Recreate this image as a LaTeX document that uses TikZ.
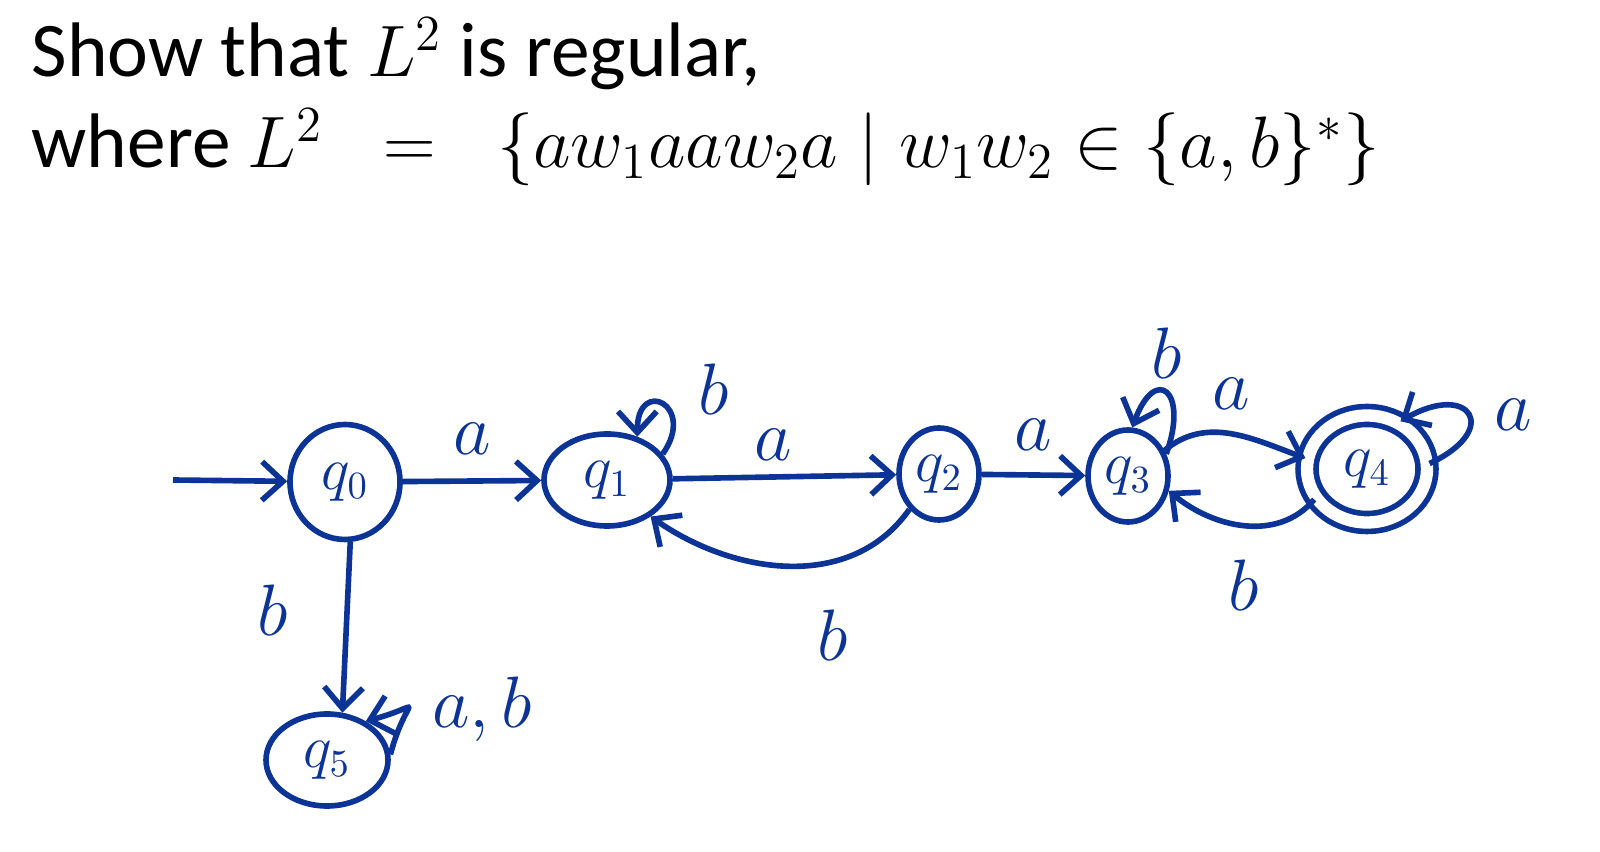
\documentclass[tikz,border=0pt]{standalone}
\usepackage{fontspec}
\setmainfont{Carlito}
\usetikzlibrary{arrows.meta, shapes.geometric, positioning}
\definecolor{ink}{RGB}{12,52,150}

\begin{document}
\begin{tikzpicture}[
    state/.style={ellipse, draw=ink, line width=1.6pt, inner sep=0pt, text=ink, font=\fontsize{16}{18}\selectfont},
    edge/.style={-{Straight Barb[length=6pt, width=11pt]}, draw=ink, line width=1.6pt},
    lbl/.style={text=ink, font=\fontsize{22}{24}\selectfont}
]
\useasboundingbox (0,0) rectangle (16,8.52);

% Title lines
\node[anchor=base west, inner sep=0pt, font=\fontsize{22}{27}\selectfont] (title1) at (0.31,7.75) {Show that $L^2$ is regular,};
\node[anchor=base west, inner sep=0pt, font=\fontsize{22}{27}\selectfont] (title2) at (0.31,6.84) {where $L^2 \;\;=\;\; \{aw_1aaw_2a \mid w_1w_2 \in \{a,b\}^*\}$};

% States
\node[state, minimum width=1.1cm, minimum height=1.15cm] (q0) at (3.45,3.70) {$q_0$};
\node[state, minimum width=1.26cm, minimum height=0.92cm] (q1) at (6.07,3.72) {$q_1$};
\node[state, minimum width=0.80cm, minimum height=0.92cm] (q2) at (9.39,3.78) {$q_2$};
\node[state, minimum width=0.80cm, minimum height=0.92cm] (q3) at (11.28,3.76) {$q_3$};
\node[state, double, double distance=3.5pt, minimum width=1.20cm, minimum height=1.07cm] (q4) at (13.67,3.83) {$q_4$};
\node[state, minimum width=1.22cm, minimum height=0.92cm] (q5) at (3.27,0.92) {$q_5$};

% Start arrow
\coordinate (start) at (1.73,3.72);
\draw[edge] (start) -- (q0);

% Transitions
\draw[edge] (q0) -- node[lbl, above=0.12cm] {$a$} (q1);
\draw[edge] (q1) -- node[lbl, above=0.02cm, pos=0.45] {$a$} (q2);
\draw[edge] (q2) -- node[lbl, above=0.1cm] {$a$} (q3);
\draw[edge] (q2.-130) to[out=235, in=-35] node[lbl, below right=0.3cm and 0.0cm, pos=0.45] {$b$} (q1.-40);
\draw[edge] (q3.35) to[out=40, in=160] node[lbl, above=0.1cm, pos=0.5] {$a$} (q4.170);
\draw[edge] (q4.-150) to[out=-130, in=-40] node[lbl, below=0.2cm, pos=0.5] {$b$} (q3.-20);
\draw[edge] (q0.-85) -- node[lbl, left=0.45cm, pos=0.4] {$b$} (q5.72);

% Self loops
\draw[edge] (q1.25) to[out=55, in=90, looseness=5] node[lbl, right=0.15cm, yshift=0.2cm, pos=0.4] {$b$} (q1.55);
\draw[edge] (q3.30) to[out=70, in=70, looseness=4] node[lbl, above=0.0cm, pos=0.5] {$b$} (q3.85);
\draw[edge] (q4.5) to[out=25, in=30, looseness=4] node[lbl, right=0.12cm, pos=0.5] {$a$} (q4.55);
\draw[edge] (q5.5) to[out=75, in=15, looseness=4] node[lbl, right=0.1cm, pos=0.45] {$a,b$} (q5.45);
\end{tikzpicture}
\end{document}
